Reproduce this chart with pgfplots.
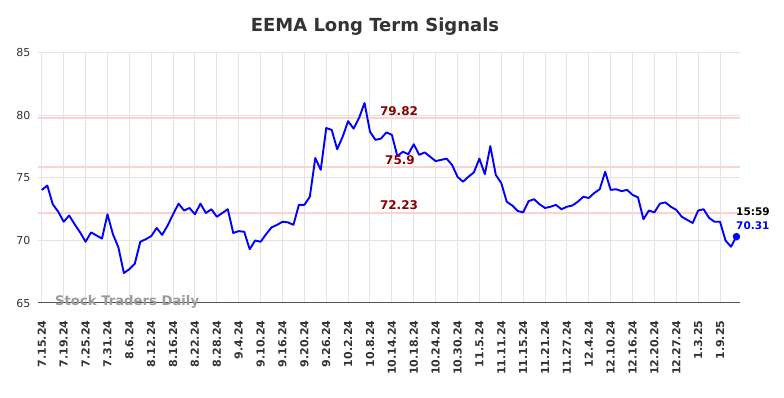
\documentclass[border=0pt]{standalone}
\usepackage{fontspec}
\setmainfont{DejaVu Sans}
\usepackage{pgfplots}
\pgfplotsset{compat=1.18}
\definecolor{gridc}{RGB}{228,228,228}
\definecolor{sig}{RGB}{255,210,210}
\definecolor{dred}{RGB}{139,0,0}
\definecolor{tickc}{RGB}{51,51,51}
\definecolor{wm}{RGB}{155,155,155}
\begin{document}
\begin{tikzpicture}
\path[use as bounding box] (-38pt,-95pt) rectangle (746pt,303pt);
\begin{axis}[
  at={(0,0)}, anchor=south west,
  scale only axis, width=702pt, height=250pt,
  xmin=-0.7, xmax=127.65, ymin=65, ymax=85,
  axis x line*=bottom, axis y line*=left,
  x axis line style={draw=tickc!85, line width=1pt},
  y axis line style={draw=none},
  major tick length=0pt,
  /pgf/number format/assume math mode=true,
  xtick={0,4,...,124},
  xticklabels={7.15.24,7.19.24,7.25.24,7.31.24,8.6.24,8.12.24,8.16.24,8.22.24,8.28.24,9.4.24,9.10.24,9.16.24,9.20.24,9.26.24,10.2.24,10.8.24,10.14.24,10.18.24,10.24.24,10.30.24,11.5.24,11.11.24,11.15.24,11.21.24,11.27.24,12.4.24,12.10.24,12.16.24,12.20.24,12.27.24,1.3.25,1.9.25},
  ytick={65,70,75,80,85},
  xticklabel style={rotate=90, anchor=east, font=\bfseries\fontsize{11}{12}\selectfont, text=tickc},
  xticklabel shift=14pt,
  yticklabel style={font=\fontsize{11}{12}\selectfont, text=tickc},
  yticklabel shift=4pt,
  grid=major,
  major grid style={draw=gridc, line width=1pt},
  clip=false,
]
\node[text=wm, font=\bfseries\fontsize{13.2}{14}\selectfont] at (axis cs:15.6,65.1) {Stock Traders Daily};
\addplot[sig, line width=2pt, forget plot] coordinates {(-0.7,79.82) (127.65,79.82)};
\addplot[sig, line width=2pt, forget plot] coordinates {(-0.7,75.9) (127.65,75.9)};
\addplot[sig, line width=2pt, forget plot] coordinates {(-0.7,72.23) (127.65,72.23)};
\addplot[blue, line width=1.9pt, line join=round] coordinates {
(0,74.04) (1,74.4) (2,72.9) (3,72.3) (4,71.5) (5,72.0) (6,71.3) (7,70.65) (8,69.9) (9,70.65)
(10,70.4) (11,70.15) (12,72.1) (13,70.5) (14,69.45) (15,67.4) (16,67.7) (17,68.15) (18,69.9) (19,70.1)
(20,70.35) (21,71.0) (22,70.45) (23,71.2) (24,72.1) (25,72.95) (26,72.4) (27,72.6) (28,72.1) (29,72.95)
(30,72.2) (31,72.5) (32,71.9) (33,72.2) (34,72.5) (35,70.6) (36,70.75) (37,70.7) (38,69.3) (39,70.0)
(40,69.9) (41,70.5) (42,71.05) (43,71.25) (44,71.5) (45,71.45) (46,71.25) (47,72.85) (48,72.85) (49,73.5)
(50,76.6) (51,75.65) (52,79.0) (53,78.85) (54,77.3) (55,78.3) (56,79.55) (57,78.95) (58,79.8) (59,81.0)
(60,78.7) (61,78.05) (62,78.15) (63,78.65) (64,78.45) (65,76.75) (66,77.1) (67,76.9) (68,77.7) (69,76.85)
(70,77.05) (71,76.7) (72,76.35) (73,76.45) (74,76.55) (75,76.05) (76,75.1) (77,74.7) (78,75.1) (79,75.45)
(80,76.55) (81,75.3) (82,77.55) (83,75.25) (84,74.6) (85,73.1) (86,72.8) (87,72.36) (88,72.25) (89,73.15)
(90,73.3) (91,72.9) (92,72.6) (93,72.7) (94,72.85) (95,72.5) (96,72.7) (97,72.8) (98,73.1) (99,73.5)
(100,73.4) (101,73.8) (102,74.1) (103,75.5) (104,74.05) (105,74.1) (106,73.95) (107,74.05) (108,73.65) (109,73.45)
(110,71.7) (111,72.4) (112,72.25) (113,72.95) (114,73.05) (115,72.7) (116,72.45) (117,71.9) (118,71.65) (119,71.4)
(120,72.4) (121,72.5) (122,71.8) (123,71.5) (124,71.5) (125,70.0) (126,69.5) (127,70.31)
};
\addplot[blue, only marks, mark=*, mark size=3.5pt] coordinates {(127,70.31)};
\end{axis}
\node[font=\bfseries\fontsize{18}{20}\selectfont, text=tickc] at (337pt,276pt) {EEMA Long Term Signals};
\node[font=\bfseries\fontsize{12}{13}\selectfont, text=dred] at (361pt,192pt) {79.82};
\node[font=\bfseries\fontsize{12}{13}\selectfont, text=dred] at (362pt,143pt) {75.9};
\node[font=\bfseries\fontsize{12}{13}\selectfont, text=dred] at (361pt,98pt) {72.23};
\node[font=\bfseries\fontsize{10.5}{11}\selectfont, text=black, anchor=west, inner sep=0pt] at (698pt,91pt) {15:59};
\node[font=\bfseries\fontsize{10.5}{11}\selectfont, text=blue, anchor=west, inner sep=0pt] at (698pt,77pt) {70.31};
\end{tikzpicture}
\end{document}
